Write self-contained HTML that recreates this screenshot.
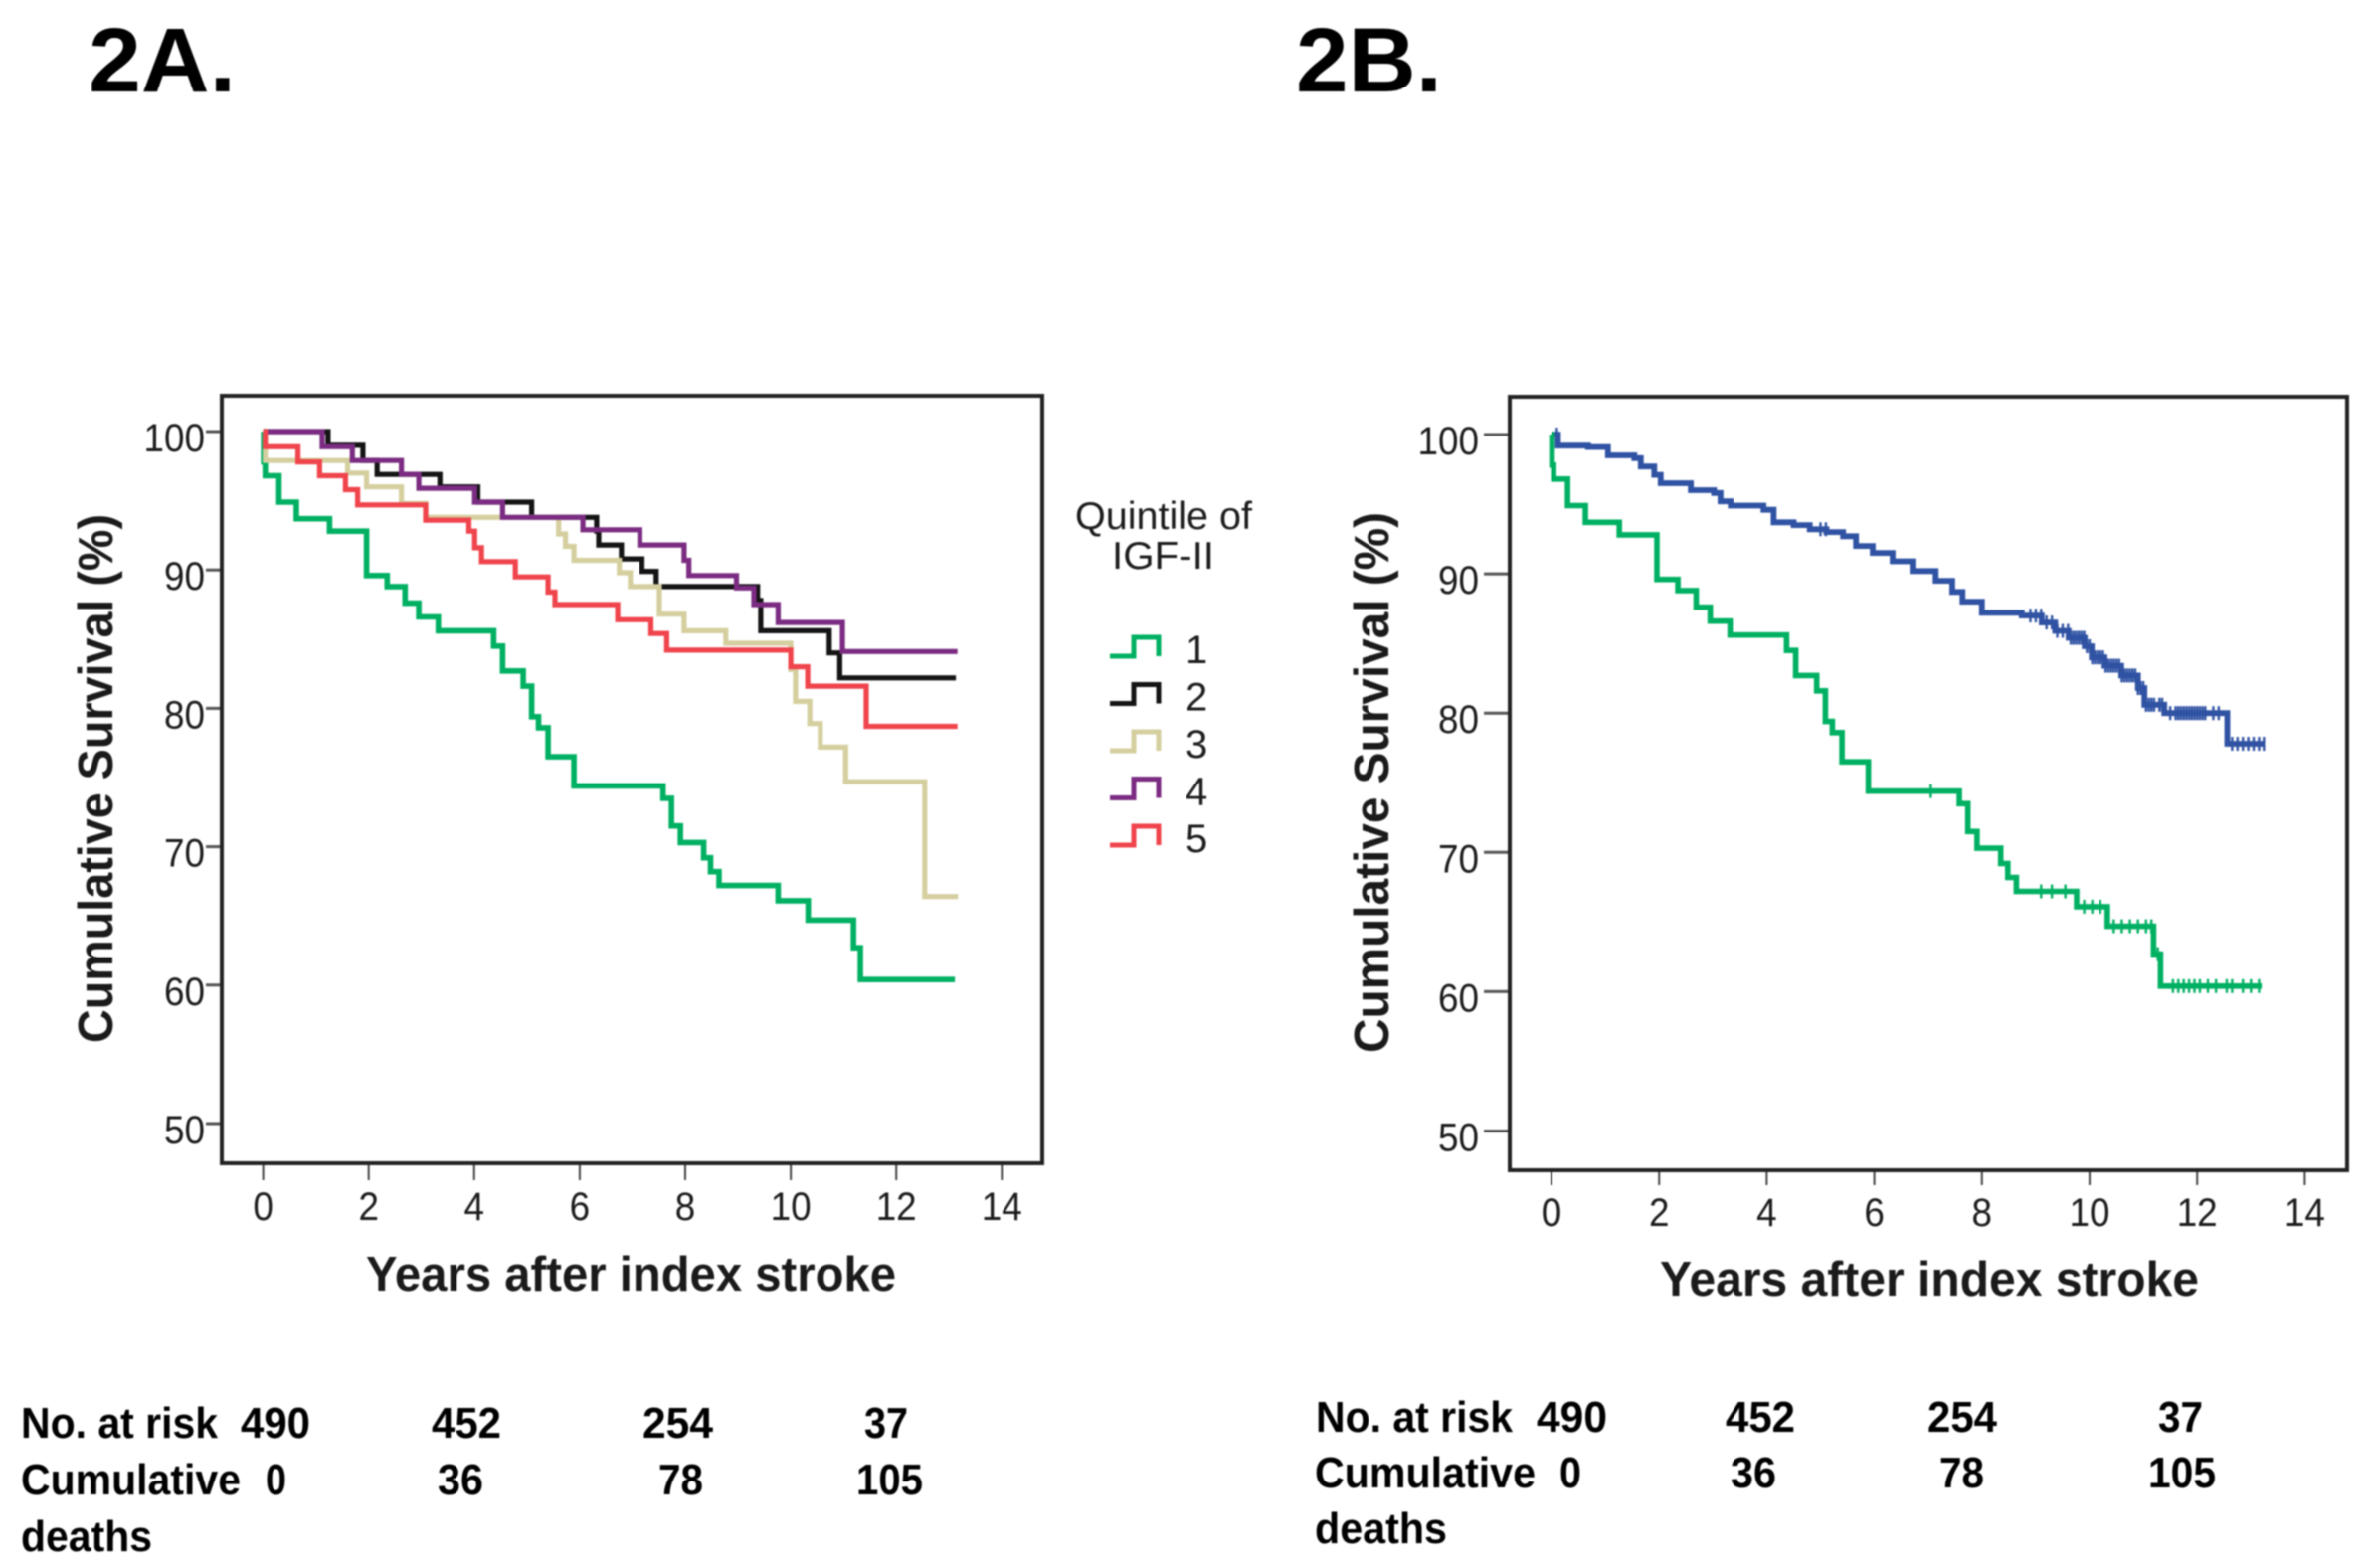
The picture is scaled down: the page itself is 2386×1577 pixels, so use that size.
<!DOCTYPE html>
<html lang="en">
<head>
<meta charset="utf-8">
<title>Cumulative survival by IGF-II quintile</title>
<style>
html,body{margin:0;padding:0;background:#fff;}
svg{display:block;filter:blur(0.8px);}
text{font-family:"Liberation Sans",sans-serif;fill:#1c1c1c;}
.panel{font-size:92px;font-weight:bold;fill:#000;}
.atitle{font-size:49px;font-weight:bold;fill:#1a1a1a;}
.tick{font-size:40px;}
.leg{font-size:39px;}
.tb{font-size:44px;font-weight:bold;fill:#000;}
</style>
</head>
<body>
<svg id="figure" xmlns="http://www.w3.org/2000/svg" width="2386" height="1577" viewBox="0 0 2386 1577">
<rect width="2386" height="1577" fill="#fff"/>
<text class="panel" x="89" y="92" textLength="148" lengthAdjust="spacingAndGlyphs">2A.</text>
<text class="panel" x="1303" y="92" textLength="147" lengthAdjust="spacingAndGlyphs">2B.</text>

<g id="chartA"></g>
<g id="chartB"></g>

<text class="atitle" transform="translate(113,1049) rotate(-90)" textLength="532" lengthAdjust="spacingAndGlyphs">Cumulative Survival (%)</text>
<text class="atitle" transform="translate(1396,1059) rotate(-90)" textLength="544" lengthAdjust="spacingAndGlyphs">Cumulative Survival (%)</text>
<text class="atitle" x="368" y="1298" textLength="533" lengthAdjust="spacingAndGlyphs">Years after index stroke</text>
<text class="atitle" x="1669" y="1303" textLength="542" lengthAdjust="spacingAndGlyphs">Years after index stroke</text>

<g id="legend">
<text class="leg" x="1081" y="532" textLength="178" lengthAdjust="spacingAndGlyphs">Quintile of</text>
<text class="leg" x="1118" y="572" textLength="103" lengthAdjust="spacingAndGlyphs">IGF-II</text>
</g>

<g id="table-a">
<text class="tb" x="21" y="1446" textLength="198" lengthAdjust="spacingAndGlyphs">No. at risk</text>
<text class="tb" x="242" y="1446" textLength="70" lengthAdjust="spacingAndGlyphs">490</text>
<text class="tb" x="434" y="1446" textLength="70" lengthAdjust="spacingAndGlyphs">452</text>
<text class="tb" x="646" y="1446" textLength="71" lengthAdjust="spacingAndGlyphs">254</text>
<text class="tb" x="869" y="1446" textLength="44" lengthAdjust="spacingAndGlyphs">37</text>
<text class="tb" x="21" y="1503" textLength="221" lengthAdjust="spacingAndGlyphs">Cumulative</text>
<text class="tb" x="267" y="1503" textLength="21" lengthAdjust="spacingAndGlyphs">0</text>
<text class="tb" x="440" y="1503" textLength="46" lengthAdjust="spacingAndGlyphs">36</text>
<text class="tb" x="662" y="1503" textLength="45" lengthAdjust="spacingAndGlyphs">78</text>
<text class="tb" x="861" y="1503" textLength="67" lengthAdjust="spacingAndGlyphs">105</text>
<text class="tb" x="21" y="1560" textLength="132" lengthAdjust="spacingAndGlyphs">deaths</text>
</g>

<g id="table-b">
<text class="tb" x="1323" y="1440" textLength="198" lengthAdjust="spacingAndGlyphs">No. at risk</text>
<text class="tb" x="1545" y="1440" textLength="71" lengthAdjust="spacingAndGlyphs">490</text>
<text class="tb" x="1735" y="1440" textLength="70" lengthAdjust="spacingAndGlyphs">452</text>
<text class="tb" x="1938" y="1440" textLength="70" lengthAdjust="spacingAndGlyphs">254</text>
<text class="tb" x="2170" y="1440" textLength="45" lengthAdjust="spacingAndGlyphs">37</text>
<text class="tb" x="1322" y="1496" textLength="222" lengthAdjust="spacingAndGlyphs">Cumulative</text>
<text class="tb" x="1568" y="1496" textLength="22" lengthAdjust="spacingAndGlyphs">0</text>
<text class="tb" x="1740" y="1496" textLength="46" lengthAdjust="spacingAndGlyphs">36</text>
<text class="tb" x="1950" y="1496" textLength="45" lengthAdjust="spacingAndGlyphs">78</text>
<text class="tb" x="2160" y="1496" textLength="68" lengthAdjust="spacingAndGlyphs">105</text>
<text class="tb" x="1322" y="1552" textLength="133" lengthAdjust="spacingAndGlyphs">deaths</text>
</g>
</svg>

<script>
// ---- Data: drop times (years) and survival (%) after each drop ----
const xTickLabels = [0, 2, 4, 6, 8, 10, 12, 14];
const yTickLabels = [100, 90, 80, 70, 60, 50];
const legendLabels = ['1', '2', '3', '4', '5'];

const q1Times = [0.01,0.04,0.30,0.63,1.26,1.96,2.35,2.69,2.95,3.32,4.37,4.54,4.93,5.09,5.22,5.40,5.89,7.58,7.74,7.91,8.35,8.48,8.64,9.76,10.33,11.19,11.32];
const q1Survival = [97.8,96.8,94.9,93.7,92.8,89.6,88.8,87.6,86.6,85.6,84.5,82.7,81.6,79.4,78.6,76.5,74.4,73.5,71.5,70.3,69.2,68.2,67.2,66.1,64.7,62.7,60.4];
const q1End = 13.11;

const q2Times = [1.23,1.89,2.16,3.35,4.07,5.09,6.32,6.36,6.79,7.18,7.45,9.37,9.43,10.73,10.93];
const q2Survival = [99.0,97.9,96.9,96.0,94.9,93.8,92.8,91.8,90.8,89.9,88.8,87.8,85.6,84.0,82.2];
const q2End = 13.13;

const q3Times = [0.04,1.60,1.96,2.62,3.08,5.60,5.73,5.89,6.75,6.96,7.51,7.98,8.77,10.0,10.09,10.36,10.56,11.04,12.54];
const q3Survival = [97.9,97.0,96.0,94.8,93.8,92.6,91.7,90.7,89.8,88.8,86.8,85.6,84.7,82.8,80.5,78.9,77.2,74.7,66.4];
const q3End = 13.17;

const q4Times = [1.12,1.69,2.62,2.95,4.01,4.54,6.06,7.14,7.98,8.07,8.97,9.30,9.76,10.98];
const q4Survival = [98.9,97.9,96.9,95.9,94.9,93.8,92.9,91.8,90.7,89.6,88.7,87.5,86.2,84.1];
const q4End = 13.16;

const q5Times = [0.04,0.66,1.07,1.56,1.79,3.08,3.90,4.01,4.14,4.78,5.40,5.53,6.72,7.35,7.65,10.0,10.32,11.43];
const q5Survival = [98.9,97.8,96.8,95.8,94.7,93.6,92.8,91.6,90.6,89.5,88.4,87.5,86.4,85.4,84.2,83.0,81.6,78.7];
const q5End = 13.16;

const highTimes = [0.12,0.68,1.05,1.54,1.66,1.91,2.03,2.59,3.02,3.14,3.33,3.94,4.13,4.50,4.80,5.11,5.42,5.66,5.97,6.34,6.71,7.14,7.45,7.64,8.0,8.74,9.11,9.36,9.61,9.91,10.04,10.28,10.59,10.9,11.02,11.39,12.56];
const highSurvival = [99.2,99.1,98.5,98.3,97.7,97.1,96.5,96.0,95.8,95.2,94.9,94.6,93.7,93.5,93.2,93.0,92.7,92.0,91.5,90.9,90.2,89.5,88.7,88.0,87.2,87.0,86.5,85.9,85.4,84.8,84.0,83.4,82.7,81.8,80.6,80.0,77.8];
const highEnd = 13.24;
const highCensored = [0.1,5.0,5.1,8.9,9.0,9.1,9.2,9.3,9.4,9.5,9.6,9.65,9.7,9.75,9.8,9.85,9.9,9.95,10.0,10.05,10.1,10.15,10.2,10.25,10.3,10.35,10.4,10.45,10.5,10.55,10.6,10.65,10.7,10.75,10.8,10.85,10.9,10.95,11.0,11.05,11.1,11.15,11.2,11.3,11.35,11.5,11.6,11.65,11.7,11.75,11.8,11.85,11.9,11.95,12.0,12.05,12.1,12.15,12.3,12.4,12.65,12.75,12.85,12.95,13.05,13.15,13.24];

const lowTimes = q1Times;
const lowSurvival = q1Survival;
const lowEnd = 13.2;
const lowCensored = [7.05,9.1,9.3,9.55,9.9,10.05,10.2,10.45,10.6,10.75,10.9,11.05,11.15,11.27,11.55,11.65,11.75,11.85,11.95,12.05,12.2,12.35,12.55,12.65,12.85,13.0,13.15];

// ---- Rendering ----
const NS = 'http://www.w3.org/2000/svg';
const Q_COLORS = ['#00b062', '#141414', '#d5cf9f', '#7b2c82', '#f0444c'];

function make(tag, parent) {
  const el = document.createElementNS(NS, tag);
  parent.appendChild(el);
  return el;
}
function axisX(origin, perYear) { return t => origin + perYear * t; }
function axisY(origin, perPct) { return v => origin + perPct * (100 - v); }

function stepPath(x, y, times, values, end) {
  let d = 'M' + x(0).toFixed(1) + ' ' + y(100).toFixed(1);
  times.forEach((t, i) => {
    d += 'H' + x(t).toFixed(1) + 'V' + y(values[i]).toFixed(1);
  });
  return d + 'H' + x(end).toFixed(1);
}
function survivalAt(t, times, values) {
  let s = 100;
  times.forEach((tt, i) => { if (tt <= t) s = values[i]; });
  return s;
}

function drawFrame(root, box, x, y, tickX, tickY, labelRight, labelTop) {
  xTickLabels.forEach(v => {
    const t = make('line', root);
    
    
    t.setAttribute('x1', x(v)); t.setAttribute('x2', x(v));
    t.setAttribute('y1', box.b); t.setAttribute('y2', tickX);
    t.setAttribute('stroke', '#444'); t.setAttribute('stroke-width', '2');
    const l = make('text', root);
    
    
    l.setAttribute('class', 'tick');
    l.setAttribute('x', x(v)); l.setAttribute('y', labelTop);
    l.setAttribute('text-anchor', 'middle');
    l.setAttribute('textLength', String(v).length * 20.5);
    l.setAttribute('lengthAdjust', 'spacingAndGlyphs');
    l.textContent = v;
  });
  yTickLabels.forEach(v => {
    const t = make('line', root);
    
    
    t.setAttribute('x1', tickY); t.setAttribute('x2', box.l);
    t.setAttribute('y1', y(v)); t.setAttribute('y2', y(v));
    t.setAttribute('stroke', '#555'); t.setAttribute('stroke-width', '3');
    const l = make('text', root);
    
    
    l.setAttribute('class', 'tick');
    l.setAttribute('x', labelRight); l.setAttribute('y', y(v) + 20);
    l.setAttribute('text-anchor', 'end');
    l.setAttribute('textLength', String(v).length * 20.5);
    l.setAttribute('lengthAdjust', 'spacingAndGlyphs');
    l.textContent = v;
  });
  const f = make('rect', root);
  
  
  f.setAttribute('x', box.l); f.setAttribute('y', box.t);
  f.setAttribute('width', box.r - box.l); f.setAttribute('height', box.b - box.t);
  f.setAttribute('fill', 'none'); f.setAttribute('stroke', '#222'); f.setAttribute('stroke-width', '4');
}

function drawLine(root, name, color, d, width) {
  const p = make('path', root);
  
  
  p.setAttribute('d', d);
  p.setAttribute('fill', 'none');
  p.setAttribute('stroke', color);
  p.setAttribute('stroke-width', width);
  p.setAttribute('stroke-linejoin', 'miter');
}

function drawCensors(root, name, color, x, y, censored, times, values) {
  censored.forEach(t => {
    const c = make('line', root);
    
    
    const s = survivalAt(t, times, values);
    c.setAttribute('x1', x(t)); c.setAttribute('x2', x(t));
    c.setAttribute('y1', y(s) - 7); c.setAttribute('y2', y(s) + 7);
    c.setAttribute('stroke', color); c.setAttribute('stroke-width', '2.4');
  });
}

// Chart 2A
const chartA = document.getElementById('chartA');
const xA = axisX(264.6, 53.05);
const yA = axisY(434, 13.92);
drawFrame(chartA, {l: 223, r: 1048, t: 398, b: 1170}, xA, yA, 1187, 207, 206, 1227);
drawLine(chartA, 'line-quintile-1', Q_COLORS[0], stepPath(xA, yA, q1Times, q1Survival, q1End), 5.6);
drawLine(chartA, 'line-quintile-2', Q_COLORS[1], stepPath(xA, yA, q2Times, q2Survival, q2End), 5.2);
drawLine(chartA, 'line-quintile-3', Q_COLORS[2], stepPath(xA, yA, q3Times, q3Survival, q3End), 5.2);
drawLine(chartA, 'line-quintile-4', Q_COLORS[3], stepPath(xA, yA, q4Times, q4Survival, q4End), 5.2);
drawLine(chartA, 'line-quintile-5', Q_COLORS[4], stepPath(xA, yA, q5Times, q5Survival, q5End), 5.2);

// Chart 2B
const chartB = document.getElementById('chartB');
const xB = axisX(1560, 54.1);
const yB = axisY(437, 14.01);
drawFrame(chartB, {l: 1518, r: 2360, t: 399, b: 1177}, xB, yB, 1192, 1492, 1487, 1233);
drawLine(chartB, 'line-high-igf', '#2f52a3', stepPath(xB, yB, highTimes, highSurvival, highEnd), 5.8);
drawCensors(chartB, 'censor-mark-high-igf', '#2f52a3', xB, yB, highCensored, highTimes, highSurvival);
drawLine(chartB, 'line-low-igf', Q_COLORS[0], stepPath(xB, yB, lowTimes, lowSurvival, lowEnd), 5.6);
drawCensors(chartB, 'censor-mark-low-igf', Q_COLORS[0], xB, yB, lowCensored, lowTimes, lowSurvival);

// Legend
const legend = document.getElementById('legend');
legendLabels.forEach((label, i) => {
  const g = make('g', legend);
  
  
  const row = 47.5 * i;
  const swatch = make('path', g);
  
  
  swatch.setAttribute('d', 'M1116 ' + (660 + row) + 'H1140V' + (641 + row) + 'H1165V' + (660 + row));
  swatch.setAttribute('fill', 'none');
  swatch.setAttribute('stroke', Q_COLORS[i]);
  swatch.setAttribute('stroke-width', '5');
  const t = make('text', g);
  
  
  t.setAttribute('class', 'tick');
  t.setAttribute('x', 1192);
  t.setAttribute('y', 667 + row);
  t.textContent = label;
});
</script>
</body>
</html>
